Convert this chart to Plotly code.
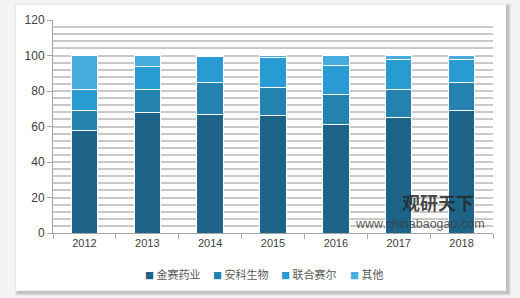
import plotly.graph_objects as go

years = ["2012", "2013", "2014", "2015", "2016", "2017", "2018"]
jinsai = [58, 68, 67, 66, 61, 65, 69]
anke = [11, 13, 18, 16, 17, 16, 16]
lianhe = [12, 13, 14.5, 17, 16.5, 16.5, 12.8]
qita = [19, 6, 0.5, 1, 5.5, 2.5, 2.2]

names = ["金赛药业", "安科生物", "联合赛尔", "其他"]
colors = ["#1d6488", "#2482ae", "#279bd2", "#48acdd"]

W, H = 520, 298
L, R, T, B = 53, 27, 19.5, 65
pw, ph = W - L - R, H - T - B

def px(x):
    return (x - L) / pw

def py(y):
    return (H - B - y) / ph

fig = go.Figure()
for n, c, v in zip(names, colors, [jinsai, anke, lianhe, qita]):
    fig.add_trace(go.Bar(x=years, y=v, name=n, marker=dict(color=c, line=dict(color="white", width=1)),
                         width=0.42, showlegend=False))

shapes = []
for i, op in enumerate([0.05, 0.07, 0.09]):
    d = 3 - i
    shapes.append(dict(type="rect", xref="paper", yref="paper", layer="below",
                       x0=px(16 - d + 2), x1=px(506 + d + 2), y0=py(291 + d + 2), y1=py(4 - d + 2),
                       fillcolor=f"rgba(0,0,0,{op})", line=dict(width=0)))
shapes.append(dict(type="rect", xref="paper", yref="paper", layer="below",
                   x0=px(16), x1=px(506), y0=py(291), y1=py(4),
                   fillcolor="white", line=dict(width=0)))

# manual legend
legend_x = [143, 211, 279, 348]
annotations = []
for n, c, lx in zip(names, colors, legend_x):
    annotations.append(dict(
        text=f"<span style='color:{c};font-size:9px'>■</span> {n}", x=px(lx), y=py(274),
        xref="paper", yref="paper", xanchor="left", yanchor="middle", showarrow=False,
        font=dict(family="Noto Sans CJK SC", size=11, color="#595959")))

annotations += [
    dict(text="<b>观研天下</b>", x=px(438), y=py(202), xref="paper", yref="paper",
         xanchor="center", yanchor="middle", showarrow=False,
         font=dict(family="Noto Sans CJK SC", size=18, color="rgba(40,40,40,0.85)")),
    dict(text="www.chinabaogao.com", x=px(420), y=py(224), xref="paper", yref="paper",
         xanchor="center", yanchor="middle", showarrow=False,
         font=dict(family="Liberation Sans", size=12.5, color="rgba(60,60,60,0.85)")),
]

fig.update_layout(
    width=W, height=H,
    margin=dict(l=L, r=R, t=T, b=B),
    paper_bgcolor="#f4f4f4",
    plot_bgcolor="rgba(0,0,0,0)",
    barmode="stack",
    shapes=shapes,
    font=dict(family="Liberation Sans, Noto Sans CJK SC", size=11, color="#404040"),
    showlegend=False,
    xaxis=dict(type="category", showline=True, linecolor="#a6a6a6", linewidth=1,
               ticks="outside", tickson="boundaries", ticklen=5, tickcolor="#a6a6a6",
               tickfont=dict(size=11, color="#404040")),
    yaxis=dict(range=[0, 120], dtick=20, showline=True, linecolor="#a6a6a6",
               ticks="outside", ticklen=5, tickcolor="#a6a6a6",
               showgrid=True, gridcolor="#c9c9c9", gridwidth=1.5,
               minor=dict(dtick=4, showgrid=True, gridcolor="#c9c9c9", gridwidth=1.5),
               zeroline=False, tickfont=dict(size=12, color="#404040")),
    annotations=annotations,
)

fig.write_html("out.html")
